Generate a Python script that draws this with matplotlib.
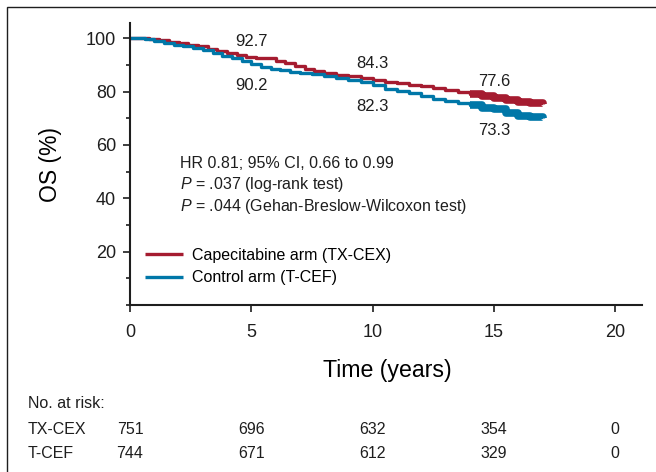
import matplotlib
matplotlib.use("Agg")
import matplotlib.pyplot as plt
import matplotlib.transforms as mtransforms
from matplotlib.patches import Rectangle
from matplotlib.ticker import MultipleLocator

plt.rcParams["font.family"] = ["Liberation Sans", "DejaVu Sans"]
plt.rcParams["mathtext.fontset"] = "custom"
plt.rcParams["mathtext.rm"] = "Liberation Sans"
plt.rcParams["mathtext.it"] = "Liberation Sans:italic"

RED, BLUE = "#a51c30", "#0077a8"
INK = "#1e1e1e"

# Kaplan-Meier curves (years, OS %)
tx_time = [0, 0.8, 1.2, 1.6, 2.0, 2.4, 2.8, 3.2, 3.6, 4.0, 4.4, 4.8, 5.2, 5.6, 6.0, 6.4,
           6.8, 7.2, 7.6, 8.0, 8.5, 9.0, 9.5, 10.0, 10.5, 11.0, 11.5, 12.0, 12.5, 13.0,
           13.5, 14.0, 14.5, 15.0, 15.5, 16.0, 16.5, 17.0]
tx_os = [100, 99.7, 99.2, 98.7, 98.2, 97.6, 96.9, 96.0, 95.2, 94.4, 93.6, 93.1, 92.7, 92.4,
         91.5, 90.6, 89.5, 88.5, 87.8, 87.1, 86.3, 85.7, 85.0, 84.3, 83.7, 83.2, 82.6, 82.0,
         81.3, 80.6, 79.9, 79.1, 78.3, 77.6, 76.8, 76.1, 75.7, 75.4]
tc_time = [0, 0.6, 1.0, 1.4, 1.8, 2.2, 2.6, 3.0, 3.4, 3.8, 4.2, 4.6, 5.0, 5.4, 5.8, 6.2,
           6.6, 7.0, 7.5, 8.0, 8.5, 9.0, 9.5, 10.0, 10.5, 11.0, 11.5, 12.0, 12.5, 13.0,
           13.5, 14.0, 14.5, 15.0, 15.5, 16.0, 16.5, 17.0]
tc_os = [100, 99.7, 99.0, 98.3, 97.6, 96.9, 96.2, 95.4, 94.4, 93.5, 92.4, 91.3, 90.2, 89.3,
         88.6, 87.9, 87.4, 87.1, 86.7, 85.9, 85.0, 84.2, 83.4, 82.3, 81.0, 80.1, 79.4, 78.5,
         77.4, 76.5, 75.6, 74.8, 74.0, 73.3, 72.0, 71.0, 70.5, 70.2]
dense_censor_from = 13.7

label_years = [5, 10, 15]
tx_labels = [92.7, 84.3, 77.6]
tc_labels = [90.2, 82.3, 73.3]

risk_years = [0, 5, 10, 15, 20]
tx_risk = [751, 696, 632, 354, 0]
tc_risk = [744, 671, 612, 329, 0]

fig = plt.figure(figsize=(6.56, 4.72), dpi=100)
W, H = 656, 472
ax = fig.add_axes([130 / W, 167 / H, 512 / W, 282 / H])

for t, s, c, lab in ((tx_time, tx_os, RED, "Capecitabine arm (TX-CEX)"),
                     (tc_time, tc_os, BLUE, "Control arm (T-CEF)")):
    ax.step(t, s, where="post", color=c, lw=2.4, label=lab, solid_capstyle="butt")
    tt = [x for x in t if x >= dense_censor_from]
    ss = [y for x, y in zip(t, s) if x >= dense_censor_from]
    ax.step(tt, ss, where="post", color=c, lw=5.5, solid_capstyle="butt")

for yr, a, b in zip(label_years, tx_labels, tc_labels):
    ax.annotate(f"{a:.1f}", (yr, a), xytext=(0, 12), textcoords="offset points",
                ha="center", va="center", fontsize=12, color=INK)
    ax.annotate(f"{b:.1f}", (yr, b), xytext=(0, -15), textcoords="offset points",
                ha="center", va="center", fontsize=12, color=INK)

ax.set_xlim(0, 21.1)
ax.set_ylim(0, 105.7)
ax.set_xticks(risk_years)
ax.set_yticks([20, 40, 60, 80, 100])
ax.yaxis.set_minor_locator(MultipleLocator(10))
for s in ("top", "right"):
    ax.spines[s].set_visible(False)
for s in ("left", "bottom"):
    ax.spines[s].set_linewidth(1.5)
    ax.spines[s].set_color(INK)
ax.tick_params(axis="both", which="major", length=5, width=1.2, labelsize=13,
               colors=INK)
ax.tick_params(axis="y", which="minor", length=3, width=1.2, colors=INK)
ax.tick_params(axis="x", pad=9)
ax.tick_params(axis="y", pad=5)

ax.set_xlabel("Time (years)", fontsize=16.7)
ax.set_ylabel("OS (%)", fontsize=16.5)
ax.yaxis.set_label_coords(-68 / 512, (305 - 165) / 282)
ax.xaxis.set_label_coords((387 - 130) / 512, -(359 - 305) / 282)

stats = ("HR 0.81; 95% CI, 0.66 to 0.99\n"
         "$P$ = .037 (log-rank test)\n"
         "$P$ = .044 (Gehan-Breslow-Wilcoxon test)")
fig.text(180 / W, 1 - 156 / H, stats, fontsize=11.5, va="top", ha="left",
         linespacing=1.25, color=INK)

ax.legend(loc="upper left", bbox_to_anchor=(145 / W, 1 - 248 / H),
          bbox_transform=fig.transFigure, frameon=False, fontsize=11.5,
          handlelength=2.4, handletextpad=0.55, labelspacing=0.45,
          borderpad=0, borderaxespad=0)

# number at risk table
trans = mtransforms.blended_transform_factory(ax.transData, fig.transFigure)
fig.text(28 / W, 1 - 404 / H, "No. at risk:", fontsize=11.5, va="center", color=INK)
for ypx, name, vals in ((429, "TX-CEX", tx_risk), (453, "T-CEF", tc_risk)):
    fig.text(28 / W, 1 - ypx / H, name, fontsize=11.5, va="center", color=INK)
    for yr, v in zip(risk_years, vals):
        ax.text(yr, 1 - ypx / H, str(v), transform=trans, fontsize=11.5,
                ha="center", va="center", color=INK)

# outer frame (cropped at right and bottom)
fig.patches.append(Rectangle((7 / W, -0.2), 1.2, 1.2 - 7 / H, transform=fig.transFigure,
                             fill=False, lw=1.0, edgecolor=INK))

fig.savefig("out.png", dpi=100)
